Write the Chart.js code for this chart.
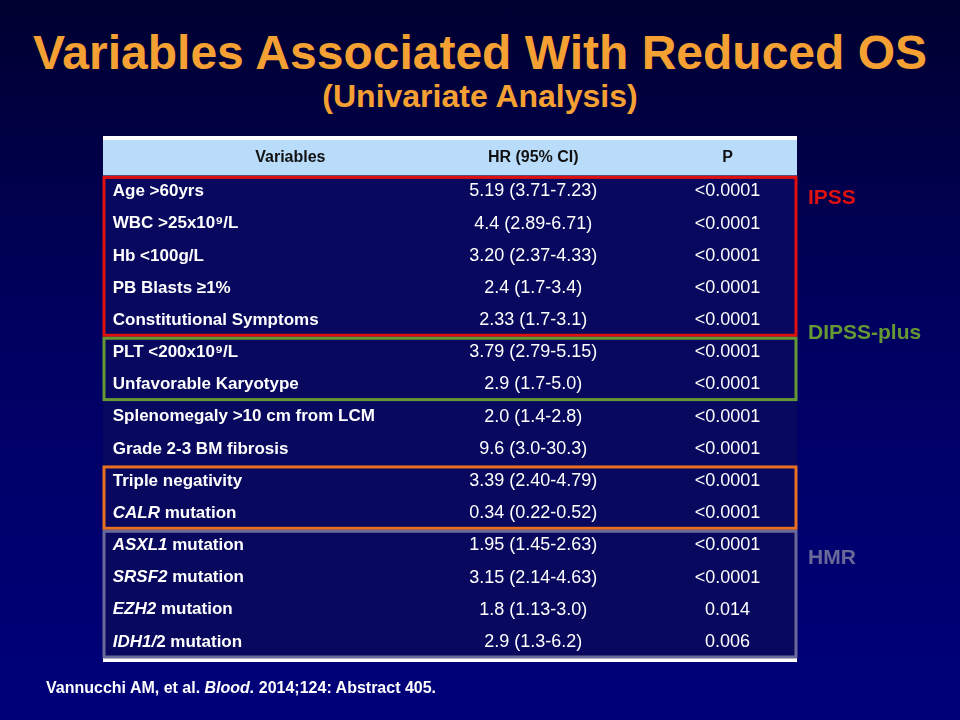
<!DOCTYPE html>
<html><head><meta charset="utf-8">
<script src="https://cdn.jsdelivr.net/npm/chart.js"></script>
<style>
html,body{margin:0;padding:0;width:960px;height:720px;overflow:hidden;background:linear-gradient(#000030 0%,#000060 45%,#00007a 100%);font-family:"Liberation Sans",Arial,sans-serif}
#wrap{position:absolute;left:0;top:0;width:960px;height:720px}
.t{position:absolute;left:0;width:960px;text-align:center;color:#F5A033;font-weight:bold}
#cite{position:absolute;left:46px;top:679px;color:#fff;font-weight:bold;font-size:16px}
</style></head><body>
<div class="t" style="top:25px;font-size:48px">Variables Associated With Reduced OS</div>
<div class="t" style="top:78px;font-size:32px">(Univariate Analysis)</div>
<div id="wrap"><canvas id="c" width="960" height="720"></canvas></div>
<div id="cite">Vannucchi AM, et al. <i>Blood.</i> 2014;124: Abstract 405.</div>
<script>
const headers = ["Variables","HR (95% CI)","P"];
const variables = ["Age >60yrs","WBC >25x10⁹/L","Hb <100g/L","PB Blasts ≥1%","Constitutional Symptoms","PLT <200x10⁹/L","Unfavorable Karyotype","Splenomegaly >10 cm from LCM","Grade 2-3 BM fibrosis","Triple negativity","*CALR* mutation","*ASXL1* mutation","*SRSF2* mutation","*EZH2* mutation","*IDH1/*2 mutation"];
const hrValues = ["5.19 (3.71-7.23)","4.4 (2.89-6.71)","3.20 (2.37-4.33)","2.4 (1.7-3.4)","2.33 (1.7-3.1)","3.79 (2.79-5.15)","2.9 (1.7-5.0)","2.0 (1.4-2.8)","9.6 (3.0-30.3)","3.39 (2.40-4.79)","0.34 (0.22-0.52)","1.95 (1.45-2.63)","3.15 (2.14-4.63)","1.8 (1.13-3.0)","2.9 (1.3-6.2)"];
const pValues = ["<0.0001","<0.0001","<0.0001","<0.0001","<0.0001","<0.0001","<0.0001","<0.0001","<0.0001","<0.0001","<0.0001","<0.0001","<0.0001","0.014","0.006"];
const groupNames = ["IPSS","DIPSS-plus","","HMR"];
const groupStart = [0,5,9,11];
const groupEnd = [5,7,11,15];
const groupColors = ["#E01010","#669933","#E87020","#6A6A9A"];
const groupLabelRow = [0.72,4.9,null,11.9];

const colX = [0.014,0.62,0.9];
const font = (s,b,i)=>`${i?'italic ':''}${b?'bold ':''}${s}px "Liberation Sans", Arial, sans-serif`;

const tablePlugin = {
  id:'table',
  beforeDatasetsDraw(chart){
    const {ctx,scales:{x,y}} = chart;
    const L=x.getPixelForValue(0), R=x.getPixelForValue(1);
    const hT=y.getPixelForValue(-1.1), h0=y.getPixelForValue(0), B=y.getPixelForValue(15);
    ctx.save();
    ctx.fillStyle='#08085e'; ctx.fillRect(L,h0,R-L,B-h0);
    ctx.fillStyle='#fff'; ctx.fillRect(L,hT-4,R-L,4); ctx.fillRect(L,B,R-L,4);
    ctx.fillStyle='#B8DCFA'; ctx.fillRect(L,hT,R-L,h0-hT);
    ctx.fillStyle='#111'; ctx.font=font(16,true); ctx.textBaseline='middle'; ctx.textAlign='center';
    const hy=(hT+h0)/2;
    ctx.fillText(headers[0],x.getPixelForValue(0.27),hy);
    ctx.fillText(headers[1],x.getPixelForValue(colX[1]),hy);
    ctx.fillText(headers[2],x.getPixelForValue(colX[2]),hy);
    ctx.fillStyle='#fff';
    variables.forEach((v,i)=>{
      const cy=y.getPixelForValue(i+0.5);
      ctx.textAlign='left';
      let px=x.getPixelForValue(colX[0]);
      v.split('*').forEach((seg,k)=>{
        if(!seg) return;
        ctx.font=font(17,true,k%2===1);
        ctx.fillText(seg,px,cy); px+=ctx.measureText(seg).width;
      });
      ctx.textAlign='center'; ctx.font=font(18,false);
      ctx.fillText(hrValues[i],x.getPixelForValue(colX[1]),cy);
      ctx.fillText(pValues[i],x.getPixelForValue(colX[2]),cy);
    });
    groupNames.forEach((g,k)=>{
      ctx.strokeStyle=groupColors[k]; ctx.lineWidth=3;
      const t=y.getPixelForValue(groupStart[k]), b=y.getPixelForValue(groupEnd[k]);
      ctx.strokeRect(L+1,t+2,R-L-2,b-t-3);
      if(g){
        ctx.fillStyle=groupColors[k]; ctx.font=font(21,true); ctx.textAlign='left';
        ctx.fillText(g,R+11,y.getPixelForValue(groupLabelRow[k]));
      }
    });
    ctx.restore();
  }
};

new Chart(document.getElementById('c'),{
  type:'scatter',
  data:{datasets:[{data:variables.map((v,i)=>({x:colX[0],y:i+0.5})),pointRadius:0}]},
  options:{responsive:false,animation:false,events:[],
    layout:{padding:{left:103,right:163,top:140,bottom:62}},
    plugins:{legend:{display:false},tooltip:{enabled:false}},
    scales:{x:{type:'linear',min:0,max:1,display:false},
            y:{type:'linear',min:-1.1,max:15,reverse:true,display:false}}},
  plugins:[tablePlugin]
});
</script></body></html>
